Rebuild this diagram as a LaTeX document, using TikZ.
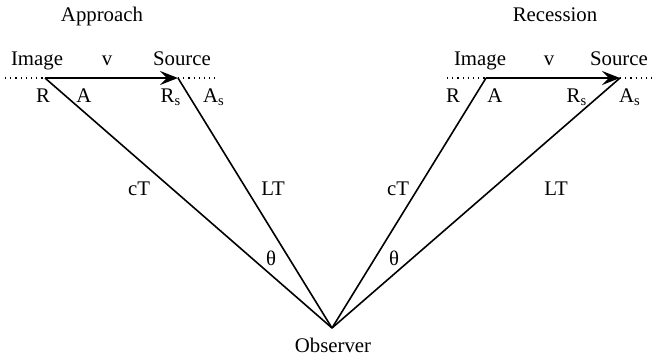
\documentclass[tikz,border=0pt]{standalone}
\usepackage{fontspec}
\setmainfont{Liberation Serif}
\usetikzlibrary{arrows.meta}
\begin{document}
\begin{tikzpicture}[x=0.5pt,y=-0.5pt,
  lbl/.style={anchor=base,inner sep=0pt,font=\fontsize{10.4pt}{12pt}\selectfont},
  ray/.style={line width=0.8pt},
  vel/.style={line width=1.1pt,-{Stealth[length=9pt,width=7pt,inset=3.5pt]}},
  horizon/.style={line width=0.6pt,dotted}]
\useasboundingbox (0,0) rectangle (653,358);
% points
\coordinate (obs) at (332,328);
\coordinate (li) at (45,78);
\coordinate (ls) at (178,78);
\coordinate (ri) at (486,78);
\coordinate (rs) at (620,78);
\coordinate (lhl) at (5,78);
\coordinate (lhr) at (215,78);
\coordinate (rhl) at (447,78);
\coordinate (rhr) at (652,78);
% horizons
\draw[horizon] (lhl) -- (li);
\draw[horizon] (ls) -- (lhr);
\draw[horizon] (rhl) -- (ri);
\draw[horizon] (rs) -- (rhr);
% velocity arrows
\draw[vel] (li) -- (ls);
\draw[vel] (ri) -- (rs);
% rays
\draw[ray] (li) -- (obs);
\draw[ray] (ls) -- (obs);
\draw[ray] (ri) -- (obs);
\draw[ray] (rs) -- (obs);
% labels
\node[lbl] (tapp) at (102,22) {Approach};
\node[lbl] (trec) at (555,22) {Recession};
\node[lbl] (limg) at (37,66) {Image};
\node[lbl] (lv) at (107,66) {v};
\node[lbl] (lsrc) at (182,66) {Source};
\node[lbl] (rimg) at (480,66) {Image};
\node[lbl] (rv) at (549,66) {v};
\node[lbl] (rsrc) at (619,66) {Source};
\node[lbl] (lR) at (43,103) {R};
\node[lbl] (lA) at (84,103) {A};
\node[lbl] (lRs) at (171,103) {R\textsubscript{s}};
\node[lbl] (lAs) at (214,103) {A\textsubscript{s}};
\node[lbl] (rR) at (453,103) {R};
\node[lbl] (rA) at (495,103) {A};
\node[lbl] (rRs) at (577,103) {R\textsubscript{s}};
\node[lbl] (rAs) at (630,103) {A\textsubscript{s}};
\node[lbl] (lcT) at (139,195) {cT};
\node[lbl] (lLT) at (273,195) {LT};
\node[lbl] (rcT) at (398,195) {cT};
\node[lbl] (rLT) at (556,195) {LT};
\node[lbl] (lth) at (271,265) {θ};
\node[lbl] (rth) at (394,265) {θ};
\node[lbl] (tobs) at (333,352) {Observer};
\end{tikzpicture}
\end{document}
